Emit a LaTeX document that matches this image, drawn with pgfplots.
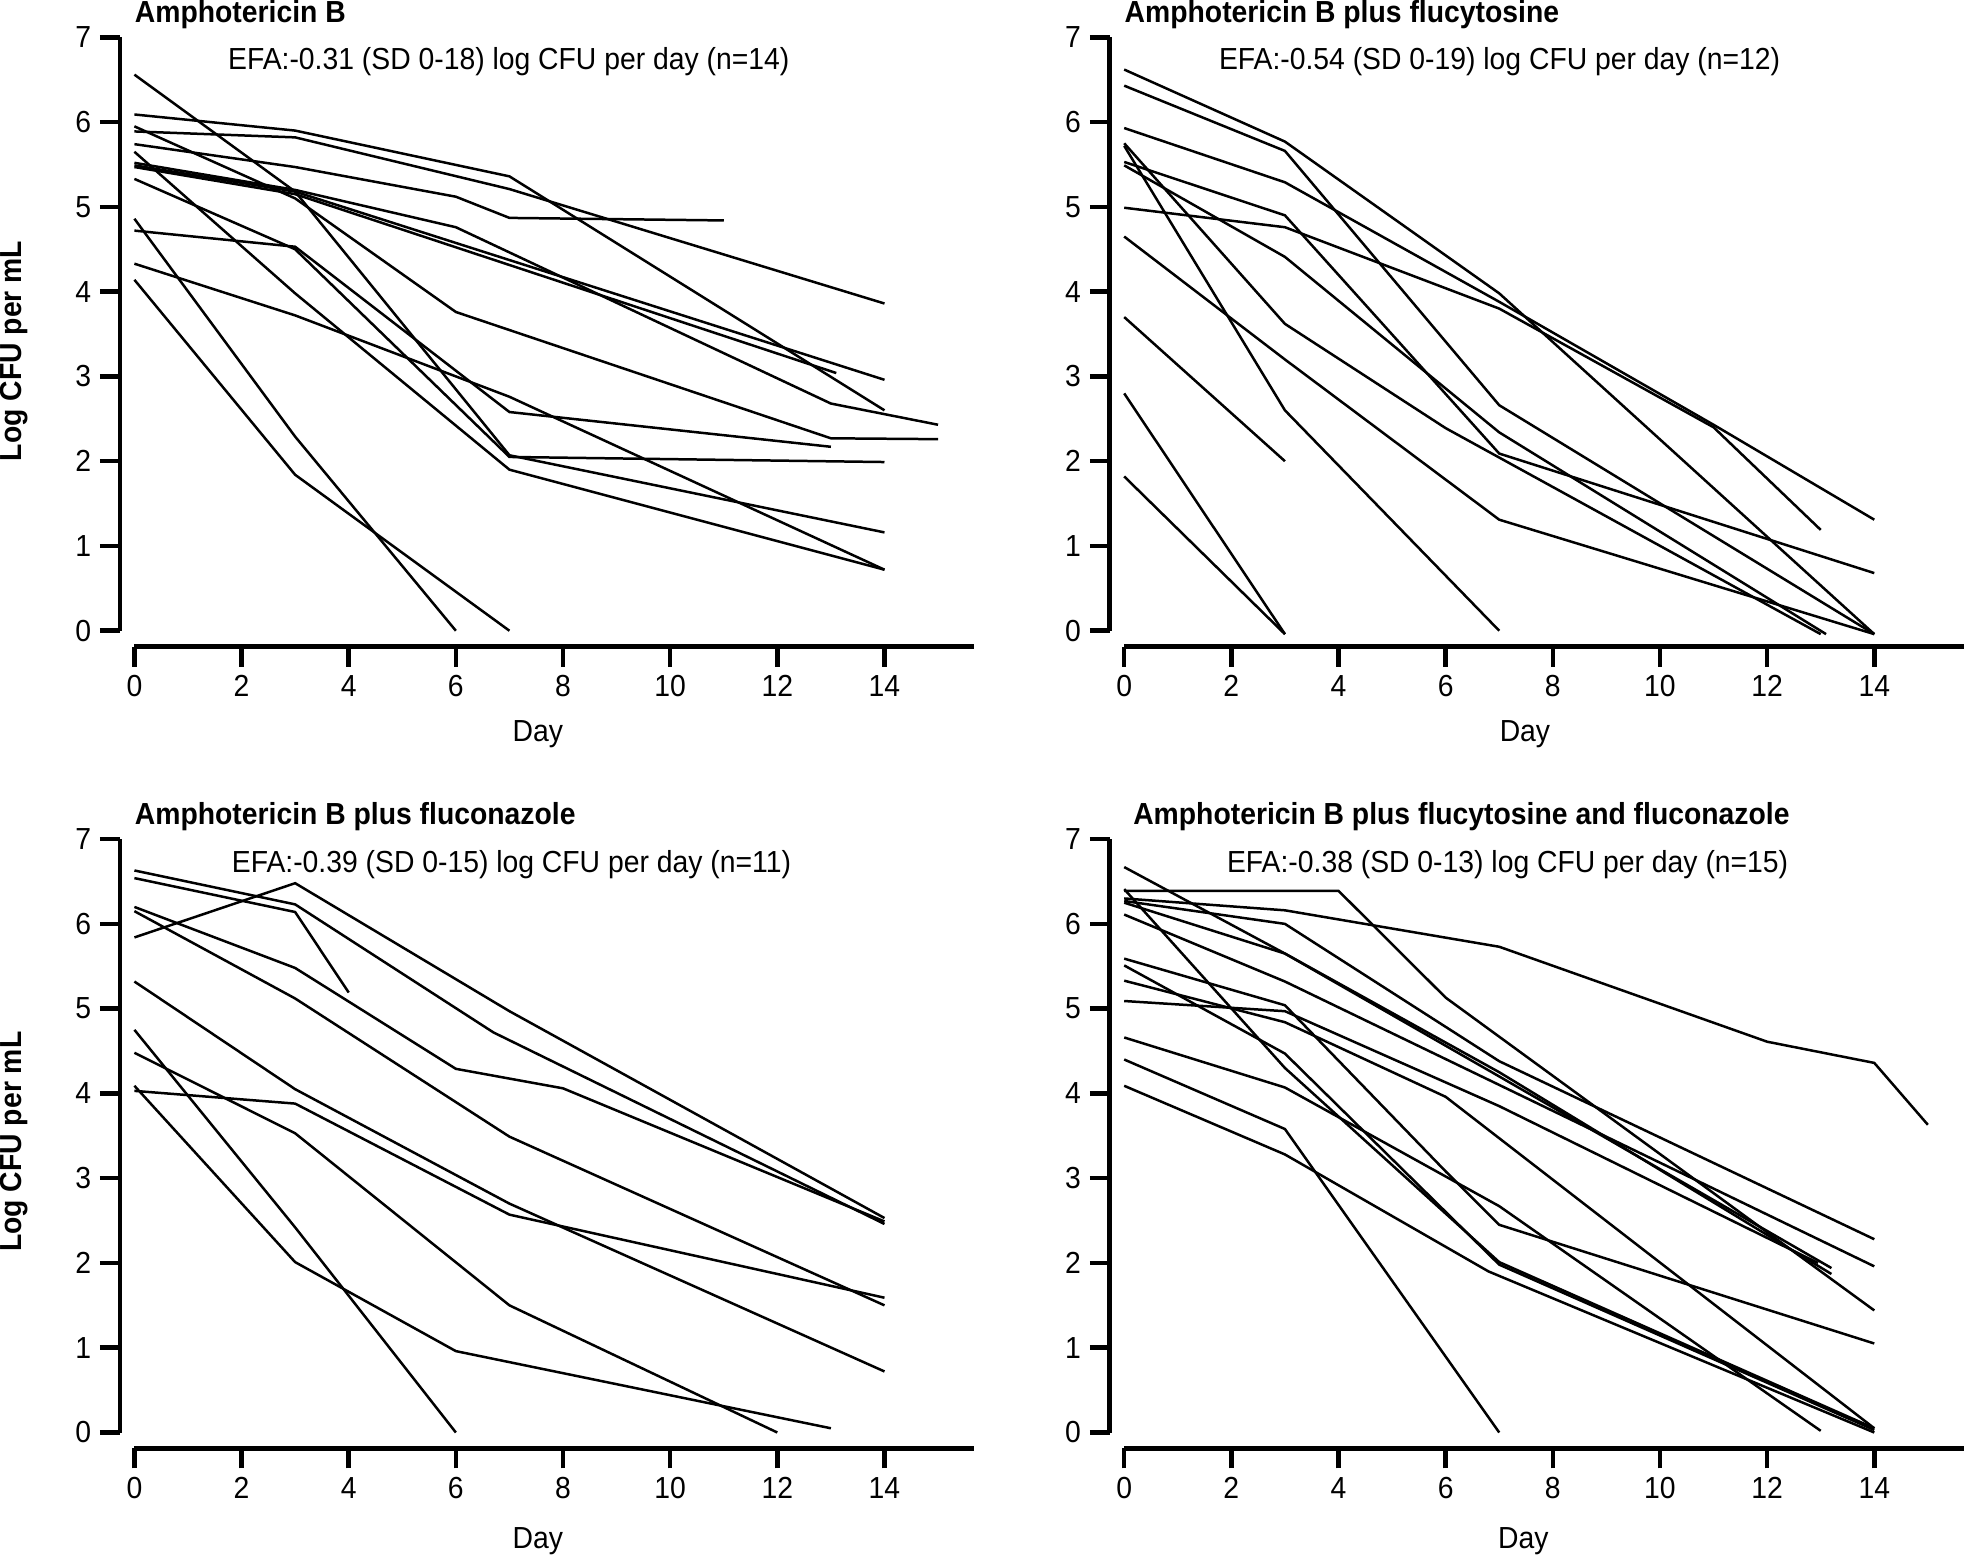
\documentclass[border=0pt]{standalone}
\usepackage{fontspec}
\setmainfont{Liberation Sans}[FakeStretch=0.93]
\usepackage{pgfplots}
\pgfplotsset{compat=1.18}
\newcommand{\fs}{\fontsize{12.2}{14}\selectfont}
\pgfplotsset{
  panel/.style={
    scale only axis, width=336.3pt, height=237.7pt,
    xmin=0, xmax=15.67, ymin=0, ymax=7,
    clip=false,
    axis lines=left,
    axis line style={-, line width=1.8pt, black},
    axis x line shift=6.4pt, axis y line shift=5.8pt,
    xtick={0,2,...,14}, ytick={0,1,...,7},
    tick align=outside, major tick length=8pt,
    tick style={line width=1.8pt, black},
    tick label style={font=\fs},
    /pgf/number format/assume math mode=true,
    anchor=south west,
    cycle list={{black, solid, line width=1pt}},
    every axis plot post/.append style={black, solid, line width=1pt, mark=none, sharp plot},
  }
}
\begin{document}
\begin{tikzpicture}[font=\fs]
% ---------------- Panel 1 ----------------
\begin{axis}[panel, at={(53.4pt,-253.76pt)}]
\addplot coordinates {(0,4.14) (3,1.84) (7,0)};
\addplot coordinates {(0,4.86) (3,2.29) (6,0)};
\addplot coordinates {(0,4.33) (3,3.72) (7,2.76) (14,0.72)};
\addplot coordinates {(0,4.72) (3,4.53) (7,2.58) (13,2.17)};
\addplot coordinates {(0,5.65) (3,3.98) (7,1.90) (14,0.72)};
\addplot coordinates {(0,5.33) (3,4.50) (7,2.05) (14,1.99)};
\addplot coordinates {(0,6.56) (3,5.18) (7,2.07) (14,1.16)};
\addplot coordinates {(0,5.95) (3,5.10) (6,3.76) (13,2.27) (15,2.26)};
\addplot coordinates {(0,6.09) (3,5.90) (7,5.36) (14,2.60)};
\addplot coordinates {(0,5.74) (3,5.47) (6,5.12) (7,4.87) (11,4.84)};
\addplot coordinates {(0,5.89) (3,5.82) (7,5.21) (14,3.86)};
\addplot coordinates {(0,5.52) (3,5.20) (6,4.76) (13,2.68) (15,2.43)};
\addplot coordinates {(0,5.49) (3,5.18) (14,2.96)};
\addplot coordinates {(0,5.47) (3,5.15) (13.1,3.04)};
\node[anchor=base west, inner sep=0pt, font=\fs\bfseries] at (axis cs:0,7.18) {Amphotericin B};
\node[anchor=base west, inner sep=0pt] at (axis cs:1.74,6.62) {EFA:-0.31 (SD 0-18) log CFU per day (n=14)};
\node[anchor=center, inner sep=0pt, rotate=90, font=\fs\bfseries] at (axis cs:-2.25,3.30) {Log CFU per mL};
\node[anchor=base, inner sep=0pt] at (axis cs:7.53,-1.31) {Day};
\end{axis}
% ---------------- Panel 2 ----------------
\begin{axis}[panel, at={(449.88pt,-253.76pt)}]
\addplot coordinates {(0,6.62) (3,5.77) (7,3.98) (14,-0.04)};
\addplot coordinates {(0,6.43) (3,5.66) (7,2.66) (14,-0.04)};
\addplot coordinates {(0,5.93) (3,5.29) (7,3.88) (11,2.43) (14,1.31)};
\addplot coordinates {(0,4.99) (3,4.76) (7,3.80) (11,2.40) (13,1.19)};
\addplot coordinates {(0,4.65) (3,3.20) (7,1.31) (14,-0.04)};
\addplot coordinates {(0,5.53) (3,4.90) (7,2.09) (14,0.68)};
\addplot coordinates {(0,5.75) (3,3.62) (6,2.39) (13,-0.04)};
\addplot coordinates {(0,5.49) (3,4.41) (7,2.34) (13.1,-0.04)};
\addplot coordinates {(0,5.72) (3,2.60) (7,0)};
\addplot coordinates {(0,3.70) (3,2.00)};
\addplot coordinates {(0,2.80) (3,-0.04)};
\addplot coordinates {(0,1.82) (3,-0.04)};
\node[anchor=base west, inner sep=0pt, font=\fs\bfseries] at (axis cs:0,7.18) {Amphotericin B plus flucytosine};
\node[anchor=base west, inner sep=0pt] at (axis cs:1.76,6.62) {EFA:-0.54 (SD 0-19) log CFU per day (n=12)};
\node[anchor=base, inner sep=0pt] at (axis cs:7.48,-1.31) {Day};
\end{axis}
% ---------------- Panel 3 ----------------
\begin{axis}[panel, at={(53.4pt,-574.92pt)}]
\addplot coordinates {(0,6.63) (3,6.23) (6.7,4.72) (14,2.46)};
\addplot coordinates {(0,6.54) (3,6.14) (4,5.19)};
\addplot coordinates {(0,5.84) (3,6.48) (7,4.97) (14,2.53)};
\addplot coordinates {(0,6.20) (3,5.48) (6,4.29) (8,4.06) (14,2.49)};
\addplot coordinates {(0,6.15) (3,5.12) (7,3.49) (14,1.50)};
\addplot coordinates {(0,5.32) (3,4.05) (7,2.70) (14,0.72)};
\addplot coordinates {(0,4.75) (3,2.42) (6,0)};
\addplot coordinates {(0,4.09) (3,2.01) (6,0.96) (13,0.05)};
\addplot coordinates {(0,4.03) (3,3.88) (7,2.57) (14,1.59)};
\addplot coordinates {(0,4.48) (3,3.53) (7,1.50) (12,0)};
\node[anchor=base west, inner sep=0pt, font=\fs\bfseries] at (axis cs:0,7.17) {Amphotericin B plus fluconazole};
\node[anchor=base west, inner sep=0pt] at (axis cs:1.81,6.61) {EFA:-0.39 (SD 0-15) log CFU per day (n=11)};
\node[anchor=center, inner sep=0pt, rotate=90, font=\fs\bfseries] at (axis cs:-2.25,3.43) {Log CFU per mL};
\node[anchor=base, inner sep=0pt] at (axis cs:7.53,-1.37) {Day};
\end{axis}
% ---------------- Panel 4 ----------------
\begin{axis}[panel, at={(449.88pt,-574.92pt)}]
\addplot coordinates {(0,6.30) (3,6.16) (7,5.73) (12,4.61) (14,4.36) (15,3.63)};
\addplot coordinates {(0,6.39) (4,6.39) (6,5.13) (14,1.44)};
\addplot coordinates {(0,6.41) (3,4.30) (7,2.01) (14,0.05)};
\addplot coordinates {(0,5.51) (3,4.47) (7,1.98) (14,0.03)};
\addplot coordinates {(0,4.09) (3,3.28) (6.8,1.90) (14,0.00)};
\addplot coordinates {(0,4.40) (3,3.58) (7,0)};
\addplot coordinates {(0,5.59) (3,5.04) (6,3.08) (7,2.45) (14,1.05)};
\addplot coordinates {(0,4.66) (3,4.07) (7,2.67) (13,0.02)};
\addplot coordinates {(0,6.27) (3,6.00) (7,4.38) (14,2.28)};
\addplot coordinates {(0,6.67) (3,5.65) (7,4.20) (13.2,1.94)};
\addplot coordinates {(0,6.25) (3,5.65) (7,4.25) (13.2,1.87)};
\addplot coordinates {(0,6.11) (3,5.32) (7,4.10) (14,1.96)};
\addplot coordinates {(0,5.33) (3,4.84) (6,3.96) (14,0.05)};
\addplot coordinates {(0,5.09) (3,4.97) (7,3.85) (12.95,2.00)};
\node[anchor=base west, inner sep=0pt, font=\fs\bfseries] at (axis cs:0.16,7.17) {Amphotericin B plus flucytosine and fluconazole};
\node[anchor=base west, inner sep=0pt] at (axis cs:1.91,6.61) {EFA:-0.38 (SD 0-13) log CFU per day (n=15)};
\node[anchor=base, inner sep=0pt] at (axis cs:7.45,-1.37) {Day};
\end{axis}
\end{tikzpicture}
\end{document}
